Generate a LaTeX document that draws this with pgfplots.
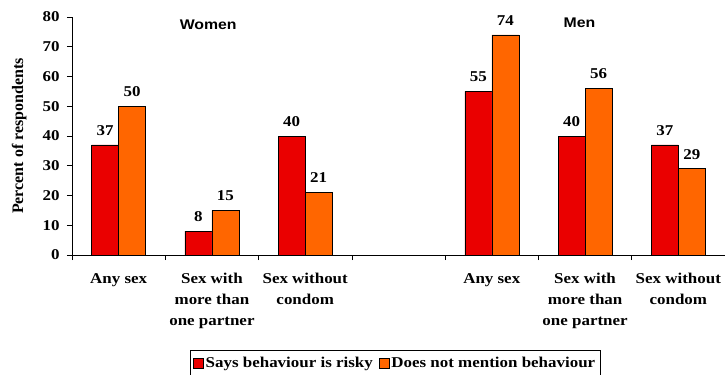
\documentclass[border=0pt]{standalone}
\usepackage{pgfplots}
\pgfplotsset{compat=1.18}
\usepackage{fontspec}
% the text of this chart is set slightly wide
\setmainfont{Liberation Serif}[FakeStretch=1.13]
\newfontfamily\plainserif{Liberation Serif}
\newfontfamily\headfont{Liberation Sans}[FakeStretch=1.13]
\definecolor{riskred}{RGB}{234,0,0}
\definecolor{noorange}{RGB}{255,102,0}
\newcommand\chartfont{\fontsize{15bp}{18bp}\selectfont\bfseries}

\pgfplotstableread{
x  risky  nomention
0  37     50
1  8      15
2  40     21
4  55     74
5  40     56
6  37     29
}\behaviour

\begin{document}
\begin{tikzpicture}[font=\chartfont]
\begin{axis}[
  at={(0,0)}, anchor=south west,
  scale only axis,
  width=653bp, height=238bp,
  xmin=-0.5, xmax=6.5,
  ymin=0, ymax=80,
  axis x line*=bottom, axis y line*=left,
  axis line style={black, line width=0.6pt},
  ybar=0pt, bar width=27bp,
  xtick={-0.5,0.5,...,6.5},
  x tick label as interval,
  xticklabels={{Any sex},{Sex with\\more than\\one partner},{Sex without\\condom},{},{Any sex},{Sex with\\more than\\one partner},{Sex without\\condom}},
  xticklabel style={align=center, font=\fontsize{15bp}{21bp}\selectfont\bfseries, yshift=-10bp},
  ytick={0,10,...,80},
  yticklabel style={xshift=-4bp},
  tick align=outside,
  major tick length=5bp,
  tick style={black, line width=0.6pt},
  /pgf/number format/assume math mode=true,
  ylabel={Percent of respondents},
  ylabel style={at={(axis description cs:-0.081,0.5)}, anchor=center,
    font=\plainserif\fontsize{16bp}{19bp}\selectfont\bfseries},
  every axis plot/.append style={draw=black, line width=0.5pt},
  nodes near coords,
  nodes near coords style={font=\chartfont, yshift=6bp, black},
  legend style={at={(0.495,-0.40)}, anchor=north, legend columns=2,
    draw=black, line width=0.6pt, font=\chartfont,
    inner xsep=3bp, inner ysep=5bp,
    /tikz/every even column/.append style={column sep=4bp}},
  legend image code/.code={\draw[#1, line width=0.5pt] (0bp,-5bp) rectangle (10bp,5bp);},
  clip=false,
]
\addplot[fill=riskred] table[x=x, y=risky] {\behaviour};
\addplot[fill=noorange] table[x=x, y=nomention] {\behaviour};
\legend{Says behaviour is risky, Does not mention behaviour}
\node[font=\headfont\fontsize{14bp}{17bp}\selectfont\bfseries] at (axis cs:0.96,77.3) {Women};
\node[font=\headfont\fontsize{14bp}{17bp}\selectfont\bfseries] at (axis cs:4.94,78) {Men};
\end{axis}
\pgfresetboundingbox
\path[use as bounding box] (-72bp,-120bp) rectangle (653bp,255bp);
\end{tikzpicture}
\end{document}
